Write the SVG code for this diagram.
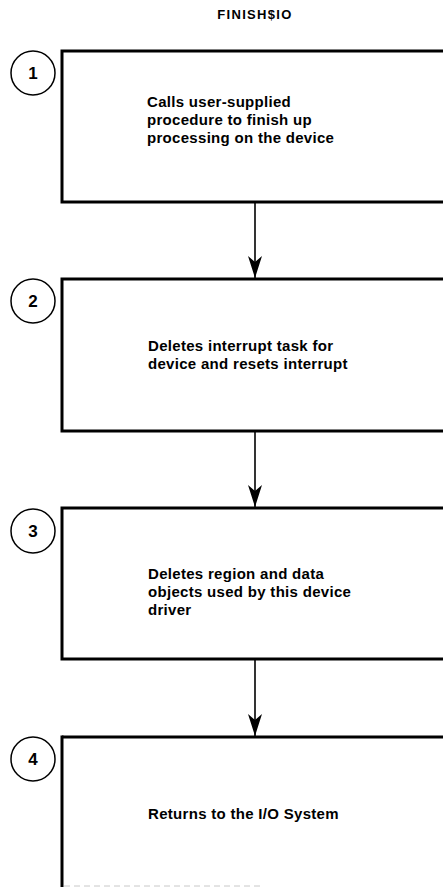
<svg xmlns="http://www.w3.org/2000/svg" width="443" height="887" viewBox="0 0 443 887">
  <style>
    .box { fill: none; stroke: #000; stroke-width: 3; }
    .num { fill: none; stroke: #000; stroke-width: 1.5; }
    .digit { font-family: "Liberation Sans", Arial, sans-serif; font-weight: bold; font-size: 17px; fill: #000; text-anchor: middle; }
    .label { font-family: "Liberation Sans", Arial, sans-serif; font-weight: bold; font-size: 15px; letter-spacing: 0.3px; fill: #000; }
    .title { font-family: "Liberation Sans", Arial, sans-serif; font-weight: bold; font-size: 13px; letter-spacing: 1.3px; fill: #000; text-anchor: middle; }
    .link { stroke: #000; stroke-width: 1.6; fill: none; }
  </style>
  <defs>
    <!-- barbed arrowhead, tip at the end of the line -->
    <marker id="arrow" viewBox="0 0 22 14" refX="22" refY="7" markerWidth="22" markerHeight="14" markerUnits="userSpaceOnUse" orient="auto">
      <path d="M0,0 L6,7 L0,14 L22,7 Z" fill="#000"/>
    </marker>
  </defs>
  <rect width="443" height="887" fill="#fff"/>

  <text class="title" x="255" y="19">FINISH$IO</text>

  <g id="connectors">
    <line class="link" x1="255" y1="203" x2="255" y2="278" marker-end="url(#arrow)"/>
    <line class="link" x1="255" y1="432" x2="255" y2="507" marker-end="url(#arrow)"/>
    <line class="link" x1="255" y1="660" x2="255" y2="736" marker-end="url(#arrow)"/>
  </g>

  <g id="step1">
    <rect class="box" x="62" y="51" width="400" height="151"/>
    <circle class="num" cx="33" cy="73" r="22"/>
    <text class="digit" x="33" y="79">1</text>
    <text class="label" x="147" y="107">Calls user-supplied</text>
    <text class="label" x="147" y="125">procedure to finish up</text>
    <text class="label" x="147" y="143">processing on the device</text>
  </g>

  <g id="step2">
    <rect class="box" x="62" y="279" width="400" height="152"/>
    <circle class="num" cx="33" cy="301" r="22"/>
    <text class="digit" x="33" y="307">2</text>
    <text class="label" x="148" y="351">Deletes interrupt task for</text>
    <text class="label" x="148" y="369">device and resets interrupt</text>
  </g>

  <g id="step3">
    <rect class="box" x="62" y="508" width="400" height="151"/>
    <circle class="num" cx="33" cy="531" r="22"/>
    <text class="digit" x="33" y="537">3</text>
    <text class="label" x="148" y="579">Deletes region and data</text>
    <text class="label" x="148" y="597">objects used by this device</text>
    <text class="label" x="148" y="615">driver</text>
  </g>

  <g id="step4">
    <line class="box" x1="62" y1="737" x2="462" y2="737"/>
    <line class="box" x1="62" y1="735.5" x2="62" y2="887"/>
    <line x1="64" y1="886" x2="260" y2="886" stroke="#c8c8c8" stroke-width="1" stroke-dasharray="6 4"/>
    <circle class="num" cx="33" cy="759" r="22"/>
    <text class="digit" x="33" y="765">4</text>
    <text class="label" x="148" y="819">Returns to the I/O System</text>
  </g>
</svg>
